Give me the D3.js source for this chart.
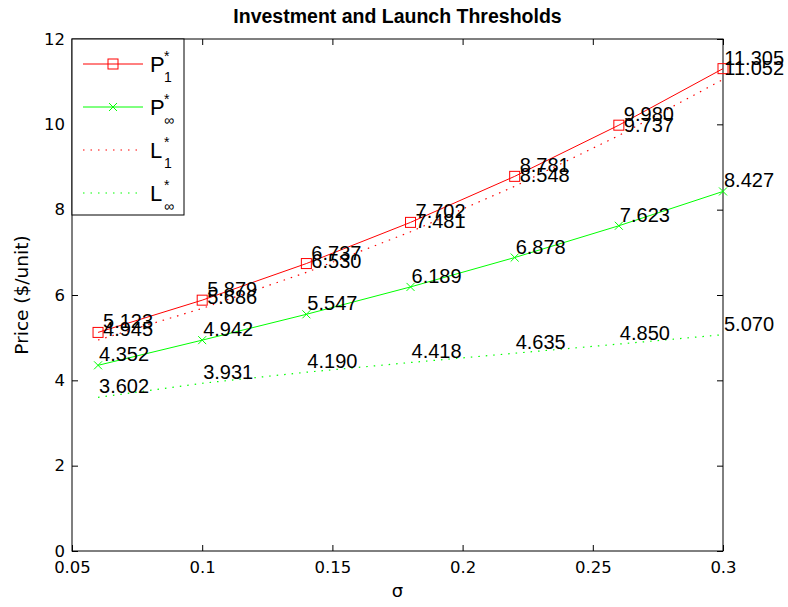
<!DOCTYPE html>
<html>
<head>
<meta charset="utf-8">
<script src="https://cdn.jsdelivr.net/npm/d3@7"></script>
<style>
  html, body { margin: 0; padding: 0; background: #fff; }
  svg { display: block; }
</style>
</head>
<body>
<svg id="chart" width="788" height="607"></svg>
<script>
// ---- data ----
const sigma = [0.06, 0.10, 0.14, 0.18, 0.22, 0.26, 0.30];
const P1   = [5.123, 5.879, 6.737, 7.702, 8.781, 9.980, 11.305];
const PInf = [4.352, 4.942, 5.547, 6.189, 6.878, 7.623, 8.427];
const L1   = [4.945, 5.686, 6.530, 7.481, 8.548, 9.737, 11.052];
const LInf = [3.602, 3.931, 4.190, 4.418, 4.635, 4.850, 5.070];
const xTicks = [0.05, 0.1, 0.15, 0.2, 0.25, 0.3];
const xTickLabels = ["0.05", "0.1", "0.15", "0.2", "0.25", "0.3"];
const yTicks = [0, 2, 4, 6, 8, 10, 12];
const yTickLabels = ["0", "2", "4", "6", "8", "10", "12"];

(function () {
const series = [
  { name: "P", sub: "1", values: P1,   color: "#ff0000", dash: null,  marker: "square", labelDx: 5 },
  { name: "P", sub: "\u221e", values: PInf, color: "#00ff00", dash: null,  marker: "x", labelDx: 1 },
  { name: "L", sub: "1", values: L1,   color: "#ff0000", dash: "1.5 6", marker: null, labelDx: 5 },
  { name: "L", sub: "\u221e", values: LInf, color: "#00ff00", dash: "1.5 6", marker: null, labelDx: 1 }
];

const W = 788, H = 607;
const mL = 72, mR = 723, mT = 39, mB = 551;
const svg = d3.select("#chart");

const x = d3.scaleLinear().domain([0.05, 0.3]).range([mL, mR]);
const y = d3.scaleLinear().domain([0, 12]).range([mB, mT]);

svg.append("rect").attr("width", W).attr("height", H).attr("fill", "#fff");

const tickFont = "'DejaVu Sans', sans-serif";
const arial = "'Liberation Sans', Arial, sans-serif";

const tl = 6;
const axB = d3.axisBottom(x).tickValues(xTicks).tickSize(-tl).tickPadding(10)
  .tickFormat((d, i) => xTickLabels[i]);
const axT = d3.axisTop(x).tickValues(xTicks).tickSize(-tl).tickFormat("");
const axL = d3.axisLeft(y).tickValues(yTicks).tickSize(-tl).tickPadding(7)
  .tickFormat((d, i) => yTickLabels[i]);
const axR = d3.axisRight(y).tickValues(yTicks).tickSize(-tl).tickFormat("");

function styleAxis(g) {
  g.select(".domain").remove();
  g.selectAll(".tick line").attr("stroke", "#000").attr("stroke-width", 1);
  g.selectAll(".tick text").attr("fill", "#000").style("font-family", tickFont).style("font-size", "16.5px");
}
svg.append("g").attr("transform", `translate(0,${mB})`).call(axB).call(styleAxis);
svg.append("g").attr("transform", `translate(0,${mT})`).call(axT).call(styleAxis);
svg.append("g").attr("transform", `translate(${mL},0)`).call(axL).call(styleAxis);
svg.append("g").attr("transform", `translate(${mR},0)`).call(axR).call(styleAxis);

svg.append("rect").attr("x", mL).attr("y", mT).attr("width", mR - mL).attr("height", mB - mT)
  .attr("fill", "none").attr("stroke", "#000").attr("stroke-width", 1);

const line = d3.line().x((d, i) => x(sigma[i])).y(d => y(d));
series.forEach(s => {
  svg.append("path").datum(s.values).attr("d", line)
    .attr("fill", "none").attr("stroke", s.color).attr("stroke-width", s.dash ? 1.2 : 1)
    .attr("stroke-dasharray", s.dash);
});

function drawMarker(g, type, cx, cy, color) {
  if (type === "square") {
    g.append("rect").attr("x", cx - 5).attr("y", cy - 5).attr("width", 10).attr("height", 10)
      .attr("fill", "none").attr("stroke", color).attr("stroke-width", 1);
  } else if (type === "x") {
    const r = 4;
    g.append("path").attr("d", `M${cx - r},${cy - r}L${cx + r},${cy + r}M${cx - r},${cy + r}L${cx + r},${cy - r}`)
      .attr("stroke", color).attr("stroke-width", 1).attr("fill", "none");
  }
}
const mg = svg.append("g");
series.forEach(s => {
  if (!s.marker) return;
  s.values.forEach((v, i) => drawMarker(mg, s.marker, x(sigma[i]), y(v), s.color));
});

const lg = svg.append("g").style("font-family", arial).style("font-size", "20px");
series.forEach(s => {
  s.values.forEach((v, i) => {
    const t = lg.append("text").attr("x", x(sigma[i]) + s.labelDx).attr("y", y(v) - 11)
      .attr("dy", "0.35em").attr("fill", "#000").text(v.toFixed(3));
    const w = t.node().getComputedTextLength();
    const maxX = W - 4 - w;
    if (+t.attr("x") > maxX) t.attr("x", Math.max(x(sigma[i]) + 1, maxX));
  });
});

const legW = 112, legH = 176;
const leg = svg.append("g");
leg.append("rect").attr("x", mL).attr("y", mT).attr("width", legW).attr("height", legH)
  .attr("fill", "#fff").attr("stroke", "#000").attr("stroke-width", 1);
const legY = [64, 107, 150, 193];
series.forEach((s, i) => {
  const ly = legY[i];
  leg.append("line").attr("x1", 83).attr("x2", 143).attr("y1", ly).attr("y2", ly)
    .attr("stroke", s.color).attr("stroke-width", s.dash ? 1.2 : 1).attr("stroke-dasharray", s.dash);
  if (s.marker) drawMarker(leg, s.marker, 113, ly, s.color);
  const tg = leg.append("g").style("font-family", arial).attr("fill", "#000");
  tg.append("text").attr("x", 150).attr("y", ly + 8).style("font-size", "22px").text(s.name);
  tg.append("text").attr("x", 164).attr("y", ly - 3).style("font-size", "14px").text("*");
  tg.append("text").attr("x", 164).attr("y", ly + 18).style("font-size", "14px").text(s.sub);
});

svg.append("text").attr("x", (mL + mR) / 2).attr("y", 23).attr("text-anchor", "middle")
  .style("font-family", arial).style("font-weight", "bold").style("font-size", "19.5px")
  .attr("fill", "#000").text("Investment and Launch Thresholds");

svg.append("text").attr("x", (mL + mR) / 2).attr("y", 597).attr("text-anchor", "middle")
  .style("font-family", tickFont).style("font-size", "18px").attr("fill", "#000").text("\u03c3");
svg.append("text").attr("transform", `translate(28,${(mT + mB) / 2}) rotate(-90)`)
  .attr("text-anchor", "middle").style("font-family", tickFont).style("font-size", "18.5px")
  .attr("fill", "#000").text("Price ($/unit)");
})();
</script>
</body>
</html>
